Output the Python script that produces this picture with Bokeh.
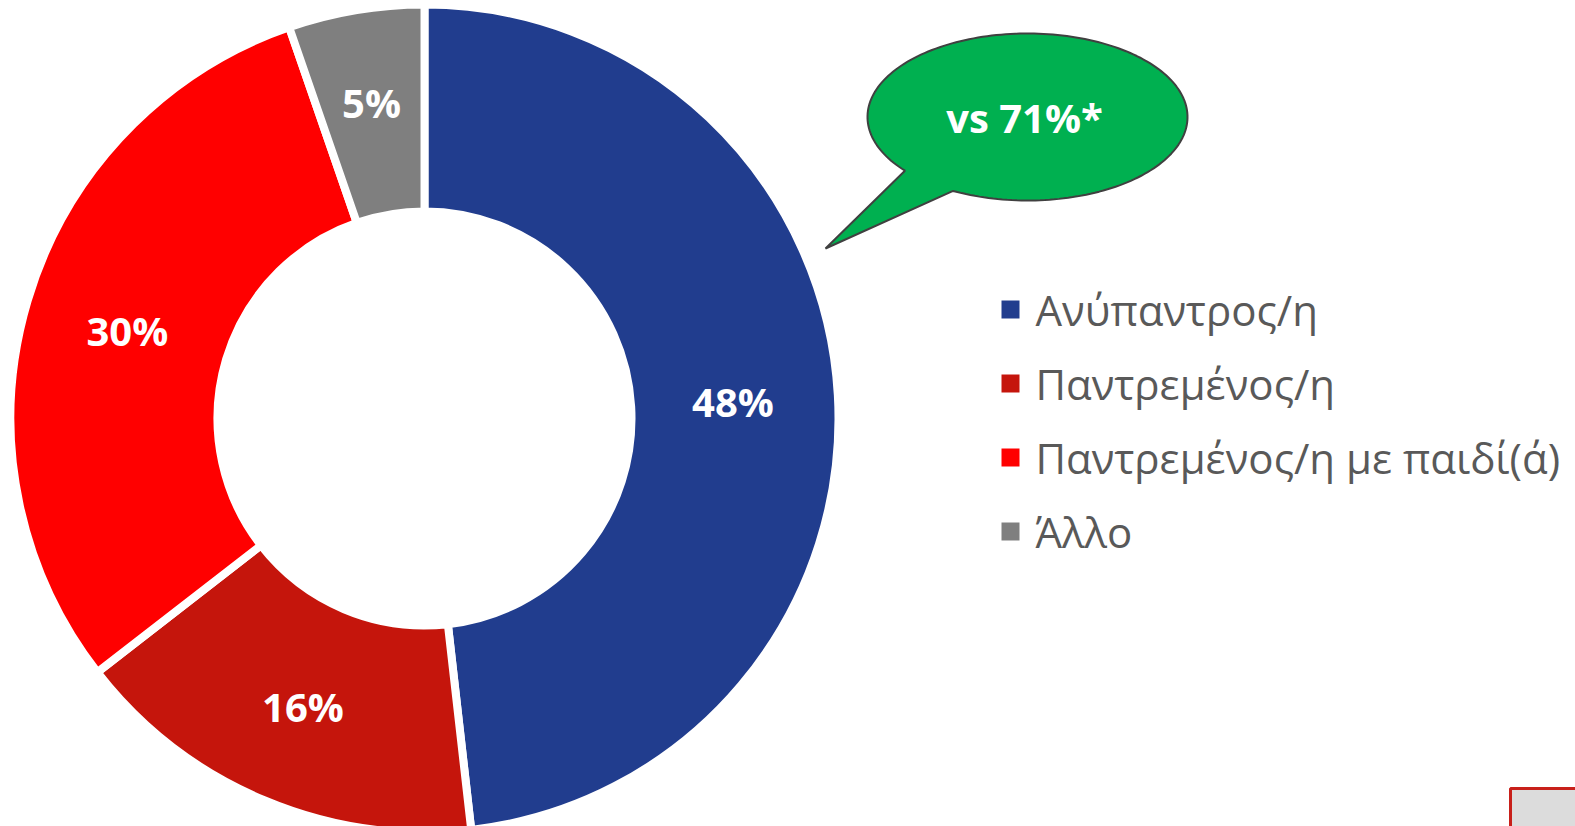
import numpy as np
from bokeh.plotting import figure
from bokeh.models import Range1d, ColumnDataSource
from bokeh.core.properties import value
from bokeh.embed import file_html
from bokeh.resources import INLINE

# ---- data ----
categories = ["Ανύπαντρος/η", "Παντρεμένος/η", "Παντρεμένος/η με παιδί(ά)", "Άλλο"]
shares = [48.2, 16.3, 30.2, 5.3]          # slice sizes
share_labels = ["48%", "16%", "30%", "5%"]
colors = ["#213D8E", "#C5150C", "#FF0000", "#7F7F7F"]
callout_text = "vs 71%*"

# ---- layout (page pixels; page y grows downward) ----
W, H = 1575, 826
OFF = 0
def Y(py):
    return (OFF + H) - py  # convert page y to data y (data y up)

cx, cy = 424, 418
r_in, r_out = 211, 410
gap = 8
label_r = np.array([309, 313, 310, 320])

p = figure(width=W, height=H, output_backend="svg", toolbar_location=None,
           x_range=Range1d(OFF, OFF + W), y_range=Range1d(Y(OFF + H), Y(OFF)),
           min_border=0)
p.axis.visible = False
p.grid.visible = False
p.outline_line_color = None
p.background_fill_color = "white"

vals = np.array(shares, dtype=float)
frac = vals / vals.sum()
cum = np.concatenate([[0], np.cumsum(frac)])
start = np.pi / 2 - 2 * np.pi * cum[:-1]
end = np.pi / 2 - 2 * np.pi * cum[1:]

src = ColumnDataSource(dict(start=start, end=end, color=colors))
p.annular_wedge(x=cx, y=Y(cy), inner_radius=r_in - gap / 2, outer_radius=r_out + gap / 2,
                start_angle="start", end_angle="end", direction="clock",
                fill_color="color", line_color="white", line_width=gap, source=src)

mid = np.pi / 2 - 2 * np.pi * (cum[:-1] + cum[1:]) / 2
lx = cx + label_r * np.cos(mid)
ly = Y(cy) + label_r * np.sin(mid)
p.text(x=lx, y=ly, text=share_labels, text_color="white",
       text_font=value("Open Sans"), text_font_style="bold", text_font_size="40px",
       text_align="center", text_baseline="middle")

# ---- speech bubble callout ----
ex, ey, ea, eb = 1027, 116.5, 160, 83.5
tip = (825, 248)
t0, t1 = np.deg2rad(140), np.deg2rad(117.7 + 360)
t = np.linspace(t0, t1, 200)
bx = list(ex + ea * np.cos(t)) + [tip[0]]
by = list(ey + eb * np.sin(t)) + [tip[1]]
p.patch(x=bx, y=[Y(v) for v in by], fill_color="#00B050", line_color="#404040", line_width=2)
p.text(x=[ex - 3], y=[Y(ey)], text=[callout_text], text_color="white",
       text_font=value("Open Sans"), text_font_style="bold", text_font_size="40px",
       text_align="center", text_baseline="middle")

# ---- legend ----
leg_x, leg_y0, leg_dy = 1010, 309, 74
ys = [Y(leg_y0 + i * leg_dy) for i in range(len(categories))]
p.scatter(x=[leg_x] * len(categories), y=ys, marker="square", size=18,
          fill_color=colors, line_color=None)
p.text(x=[leg_x + 25] * len(categories), y=ys, text=categories, text_color="#595959",
       text_font=value("Open Sans"), text_font_size="42px",
       text_align="left", text_baseline="middle")

# ---- corner box (slide element) ----
p.quad(left=[1510], right=[1600], top=[Y(788)], bottom=[Y(900)],
       fill_color="#DCDCDC", line_color="#C8201A", line_width=3)

open("out.html", "w").write(file_html(p, INLINE))
